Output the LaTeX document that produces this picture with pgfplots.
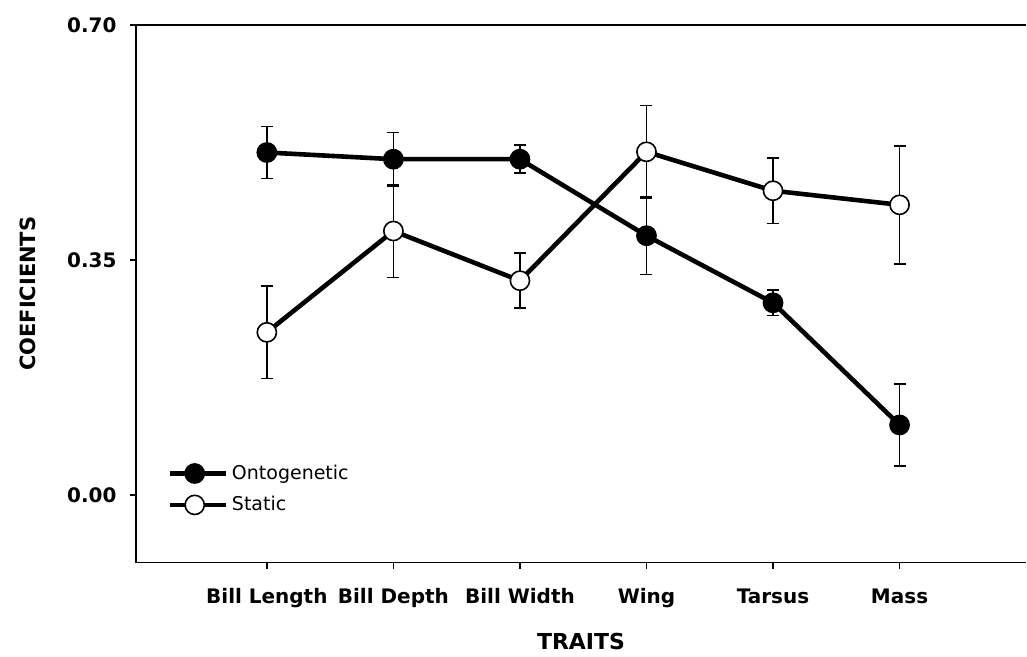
\documentclass[border=0pt]{standalone}
\usepackage{pgfplots}
\pgfplotsset{compat=1.18}
\usepackage{fontspec}
\setmainfont{DejaVu Sans}

\pgfplotstableread{
x y e
0 0.510 0.039
1 0.500 0.040
2 0.500 0.021
3 0.386 0.058
4 0.286 0.019
5 0.104 0.061
}\onto
\pgfplotstableread{
x y e
0 0.242 0.069
1 0.393 0.069
2 0.319 0.041
3 0.511 0.069
4 0.453 0.049
5 0.432 0.088
}\static

\begin{document}
\begin{tikzpicture}
\begin{axis}[
  scale only axis,
  width=445.5pt, height=269pt,
  xmin=-1.035, xmax=6.0,
  ymin=-0.101, ymax=0.70,
  axis x line=bottom, axis y line=left,
  axis line style={-, line width=0.9pt},
  xtick={0,1,2,3,4,5},
  xticklabels={Bill Length, Bill Depth, Bill Width, Wing, Tarsus, Mass},
  ytick={0,0.35,0.70},
  yticklabel={\pgfmathprintnumber[fixed,zerofill,precision=2]{\tick}},
  tick align=outside,
  major tick length=3pt,
  tick style={line width=0.8pt, black},
  /pgf/number format/assume math mode=true,
  xticklabel style={font=\fontsize{10}{12}\selectfont\bfseries, anchor=base, inner sep=0pt, yshift=-17.5pt},
  yticklabel style={font=\fontsize{10}{12}\selectfont\bfseries, anchor=east, inner sep=0pt, xshift=-6.5pt},
  xlabel={TRAITS}, ylabel={COEFICIENTS},
  every axis x label/.style={at={(axis description cs:0.5,0)}, yshift=-39.5pt, anchor=center, font=\fontsize{11}{13}\selectfont\bfseries},
  every axis y label/.style={at={(axis description cs:0,0.5)}, xshift=-54pt, rotate=90, anchor=center, font=\fontsize{10.5}{12}\selectfont\bfseries},
  legend style={at={(rel axis cs:0.035,0.19)}, anchor=north west, draw=none, fill=none,
    font=\fontsize{9.5}{12}\selectfont, row sep=3pt, inner sep=0pt,
    /tikz/every even column/.append style={column sep=5pt}},
  legend cell align=left,
  legend image code/.code={
    \draw[line width=2.3pt] (0pt,0pt) -- (28pt,0pt);
    \draw[#1, mark repeat=2, mark phase=2] plot coordinates {(0pt,0pt) (12.5pt,0pt) (28pt,0pt)};
  },
  clip=false,
]
% error bars (behind)
\addplot[draw=none, forget plot, mark=none,
  error bars/.cd, y dir=both, y explicit,
  error bar style={line width=0.8pt, black},
  error mark options={rotate=90, mark size=3pt, line width=0.8pt, black}]
  table[x=x, y=y, y error=e] {\onto};
\addplot[draw=none, forget plot, mark=none,
  error bars/.cd, y dir=both, y explicit,
  error bar style={line width=0.8pt, black},
  error mark options={rotate=90, mark size=3pt, line width=0.8pt, black}]
  table[x=x, y=y, y error=e] {\static};
% lines
\addplot[black, line width=2.3pt, mark=*, mark size=4.8pt,
  mark options={fill=black, draw=black, line width=0.8pt}]
  table[x=x, y=y] {\onto};
\addlegendentry{Ontogenetic}
\addplot[black, line width=2.3pt, mark=*, mark size=4.8pt,
  mark options={fill=white, draw=black, line width=0.8pt}]
  table[x=x, y=y] {\static};
\addlegendentry{Static}
\draw[line width=0.9pt] (rel axis cs:0,1) -- (rel axis cs:1,1);
\end{axis}
\path ([xshift=-68pt]current axis.west) -- ([yshift=12.5pt]current axis.north) -- ([yshift=-45.5pt]current axis.south);
\end{tikzpicture}
\end{document}
